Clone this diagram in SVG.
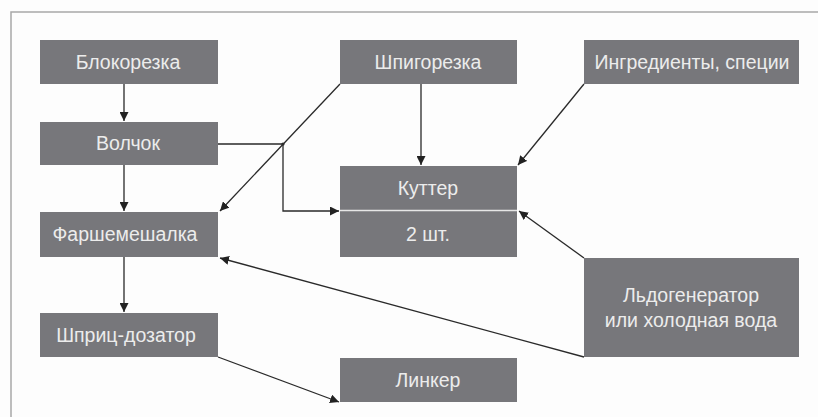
<svg xmlns="http://www.w3.org/2000/svg" width="818" height="417" viewBox="0 0 818 417">
<defs>
<marker id="ah" viewBox="0 0 10 10" refX="10" refY="5" markerWidth="9" markerHeight="9" markerUnits="userSpaceOnUse" orient="auto">
<path d="M0,0 L10,5 L0,10 z" fill="#222"/>
</marker>
<style>
.box{fill:#77777b;}
.t{font-family:"Liberation Sans",Arial,sans-serif;font-size:19.5px;fill:#ececec;text-anchor:middle;}
.c{fill:none;stroke:#2a2a2a;stroke-width:1.3;}
</style>
</defs>
<rect x="0" y="0" width="818" height="417" fill="#fdfdfd"/>
<path d="M11,417 L11,12 L818,12" fill="none" stroke="#a8a8a8" stroke-width="1.5"/>
<g id="connectors">
<line class="c" x1="124" y1="84" x2="124" y2="121" marker-end="url(#ah)"/>
<line class="c" x1="124" y1="165" x2="124" y2="211" marker-end="url(#ah)"/>
<line class="c" x1="124" y1="257" x2="124" y2="312" marker-end="url(#ah)"/>
<polyline class="c" points="218,144 283,144 283,211 339,211" marker-end="url(#ah)"/>
<line class="c" x1="340" y1="84" x2="220" y2="211" marker-end="url(#ah)"/>
<line class="c" x1="421" y1="84" x2="421" y2="165" marker-end="url(#ah)"/>
<line class="c" x1="584" y1="84" x2="518" y2="165" marker-end="url(#ah)"/>
<line class="c" x1="584" y1="258" x2="519" y2="211" marker-end="url(#ah)"/>
<line class="c" x1="584" y1="357" x2="220" y2="258" marker-end="url(#ah)"/>
<line class="c" x1="218" y1="357" x2="339" y2="402" marker-end="url(#ah)"/>
<circle cx="283" cy="144" r="1.6" fill="#2a2a2a"/>
</g>
<g id="blokorezka"><rect class="box" x="40" y="40" width="178" height="44"/><text class="t" x="128" y="69">Блокорезка</text></g>
<g id="volchok"><rect class="box" x="40" y="122" width="178" height="43"/><text class="t" x="128" y="150">Волчок</text></g>
<g id="farshemeshalka"><rect class="box" x="40" y="212" width="178" height="45"/><text class="t" x="125" y="241">Фаршемешалка</text></g>
<g id="shpric"><rect class="box" x="40" y="313" width="178" height="44"/><text class="t" x="126" y="342">Шприц-дозатор</text></g>
<g id="shpigorezka"><rect class="box" x="340" y="40" width="177" height="44"/><text class="t" x="428" y="69">Шпигорезка</text></g>
<g id="ingredienty"><rect class="box" x="584" y="40" width="215" height="44"/><text class="t" x="692" y="69">Ингредиенты, специи</text></g>
<g id="kutter"><rect class="box" x="340" y="166" width="177" height="91"/><line x1="340" y1="210.5" x2="517" y2="210.5" stroke="#e6e6e6" stroke-width="1.5"/><text class="t" x="428" y="195">Куттер</text><text class="t" x="428" y="241">2 шт.</text></g>
<g id="ldogenerator"><rect class="box" x="584" y="258" width="215" height="99"/><text class="t" x="691" y="302">Льдогенератор</text><text class="t" x="691" y="327">или холодная вода</text></g>
<g id="linker"><rect class="box" x="340" y="358" width="177" height="44"/><text class="t" x="428" y="387">Линкер</text></g>
</svg>
